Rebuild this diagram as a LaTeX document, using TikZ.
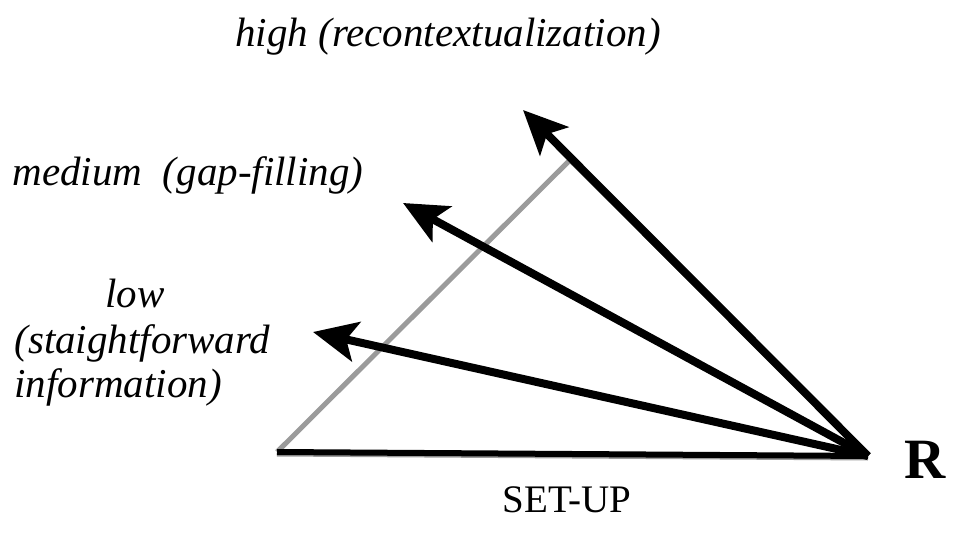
\documentclass[tikz,border=0pt]{standalone}
\usepackage{fontspec}
\setmainfont{Liberation Serif}
\usepackage{tikz}
\usetikzlibrary{arrows.meta}
\definecolor{guidegray}{RGB}{155,155,155}

\begin{document}
\begin{tikzpicture}[x=0.5pt, y=-0.5pt,
  pointer/.style={line width=4pt, -{Stealth[length=22pt,width=20pt,inset=5pt]}},
  guide/.style={line width=2.5pt, color=guidegray},
  label/.style={font=\fontsize{20.5}{24}\selectfont\itshape, inner sep=0pt}]
  \useasboundingbox (0,0) rectangle (963,534);
  %% 1. Points
  \coordinate (R0)   at (868,456);
  \coordinate (L0)   at (277,452);
  \coordinate (apex) at (570,160);
  \coordinate (hightip) at (523,110);
  \coordinate (medtip)  at (403,203);
  \coordinate (lowtip)  at (313,332);
  %% 2. Triangle
  \draw[guide] (L0) -- (apex) -- (R0);
  \draw[guide] ([yshift=-1pt]L0) -- ([yshift=-1pt]R0);
  \draw[line width=3pt] (L0) -- (R0);
  %% 3. Arrows
  \draw[pointer] (R0) -- (hightip);
  \draw[pointer] (R0) -- (medtip);
  \draw[pointer] (R0) -- (lowtip);
  %% 4. Labels
  \node[label, anchor=base] (high) at (448,47) {high (recontextualization)};
  \node[label, anchor=base] (medium) at (188,186) {medium\ \ (gap-filling)};
  \node[label, anchor=base west] (low) at (105,307) {low};
  \node[label, anchor=base west] (low2) at (14,353) {(staightforward};
  \node[label, anchor=base west] (low3) at (14,397) {information)};
  \node[font=\fontsize{28.5}{32}\selectfont\bfseries, inner sep=0pt, anchor=base] (R) at (925,478) {R};
  \node[font=\fontsize{19.5}{22}\selectfont, inner sep=0pt, anchor=base] (setup) at (567,512) {SET-UP};
\end{tikzpicture}
\end{document}
